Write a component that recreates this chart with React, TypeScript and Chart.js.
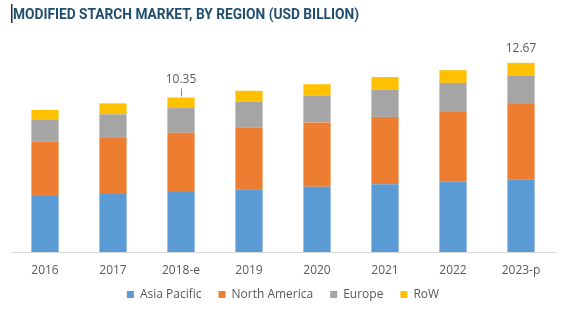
import { useEffect, useRef } from "react";
import { Chart, registerables } from "chart.js";

Chart.register(...registerables);

const categories = ["2016", "2017", "2018-e", "2019", "2020", "2021", "2022", "2023-p"];
const asiaPacific = [3.75, 3.88, 4.02, 4.2, 4.37, 4.53, 4.71, 4.87];
const northAmerica = [3.63, 3.8, 3.97, 4.12, 4.31, 4.52, 4.71, 5.04];
const europe = [1.47, 1.54, 1.65, 1.74, 1.78, 1.83, 1.91, 1.89];
const restOfWorld = [0.67, 0.74, 0.71, 0.74, 0.78, 0.84, 0.85, 0.87];
const totalLabels = ["", "", "10.35", "", "", "", "", "12.67"];
const titleText = "MODIFIED STARCH MARKET, BY REGION (USD BILLION)";

const titlePlugin = {
  id: "customTitle",
  beforeDraw(chart: any) {
    const ctx = chart.ctx;
    ctx.save();
    ctx.fillStyle = "#2b2b2b";
    ctx.fillRect(11, 4, 1.5, 19);
    ctx.font = "bold 15.5px Roboto";
    ctx.fillStyle = "#1F4E6E";
    ctx.textBaseline = "middle";
    ctx.textAlign = "left";
    const w = ctx.measureText(titleText).width;
    const s = 346 / w;
    ctx.translate(13, 15);
    ctx.scale(s, 1);
    ctx.fillText(titleText, 0, 0);
    ctx.restore();
  },
};

const legendShiftPlugin = {
  id: "legendShift",
  afterLayout(chart: any) {
    const lg = chart.legend;
    if (lg) {
      lg.top -= 6;
      lg.bottom -= 6;
    }
  },
};

const totalsPlugin = {
  id: "totals",
  afterDatasetsDraw(chart: any) {
    const ctx = chart.ctx;
    const xs = chart.scales.x;
    const ys = chart.scales.y;
    ctx.save();
    ctx.font = "12px 'Open Sans'";
    ctx.fillStyle = "#595959";
    ctx.textAlign = "center";
    ctx.textBaseline = "middle";
    totalLabels.forEach((lab, i) => {
      if (!lab) return;
      const total = asiaPacific[i] + northAmerica[i] + europe[i] + restOfWorld[i];
      const x = xs.getPixelForValue(i);
      const y = ys.getPixelForValue(total);
      if (i === 2) {
        ctx.strokeStyle = "#8c8c8c";
        ctx.lineWidth = 1;
        ctx.beginPath();
        ctx.moveTo(Math.round(x) + 0.5, y - 1);
        ctx.lineTo(Math.round(x) + 0.5, y - 9);
        ctx.stroke();
        ctx.fillText(lab, x, y - 18);
      } else {
        ctx.fillText(lab, x, y - 14.5);
      }
    });
    ctx.restore();
  },
};

export default function App() {
  const ref = useRef<HTMLCanvasElement>(null);
  useEffect(() => {
    if (!ref.current) return;
    const chart = new Chart(ref.current, {
      type: "bar",
      data: {
        labels: categories,
        datasets: [
          { label: "Asia Pacific", data: asiaPacific, backgroundColor: "#5B9BD5" },
          { label: "North America", data: northAmerica, backgroundColor: "#ED7D31" },
          { label: "Europe", data: europe, backgroundColor: "#A5A5A5" },
          { label: "RoW", data: restOfWorld, backgroundColor: "#FFC000" },
        ],
      },
      options: {
        responsive: false,
        animation: false,
        layout: { padding: { top: 43, left: 11, right: 12, bottom: 6.6 } },
        datasets: { bar: { categoryPercentage: 1, barPercentage: 0.4, borderWidth: 0 } },
        scales: {
          x: {
            stacked: true,
            grid: { display: false, drawTicks: false, tickLength: 0 },
            border: { display: true, color: "#D9D9D9", width: 1 },
            ticks: { font: { family: "Open Sans", size: 12 }, color: "#595959", padding: 11 },
            afterFit: (scale: any) => {
              scale.height = scale.height - 11;
            },
          },
          y: { stacked: true, display: false, min: 0, max: 14 },
        },
        plugins: {
          legend: {
            position: "bottom",
            labels: {
              boxWidth: 7,
              boxHeight: 7,
              font: { family: "Open Sans", size: 12 },
              color: "#595959",
              padding: 17,
            },
          },
          tooltip: { enabled: false },
        },
      },
      plugins: [titlePlugin, legendShiftPlugin, totalsPlugin],
    });
    return () => chart.destroy();
  }, []);
  return (
    <div style={{ position: "absolute", left: 0, top: 0, width: 567, height: 323, background: "#fff" }}>
      <canvas ref={ref} width={567} height={323} />
    </div>
  );
}
